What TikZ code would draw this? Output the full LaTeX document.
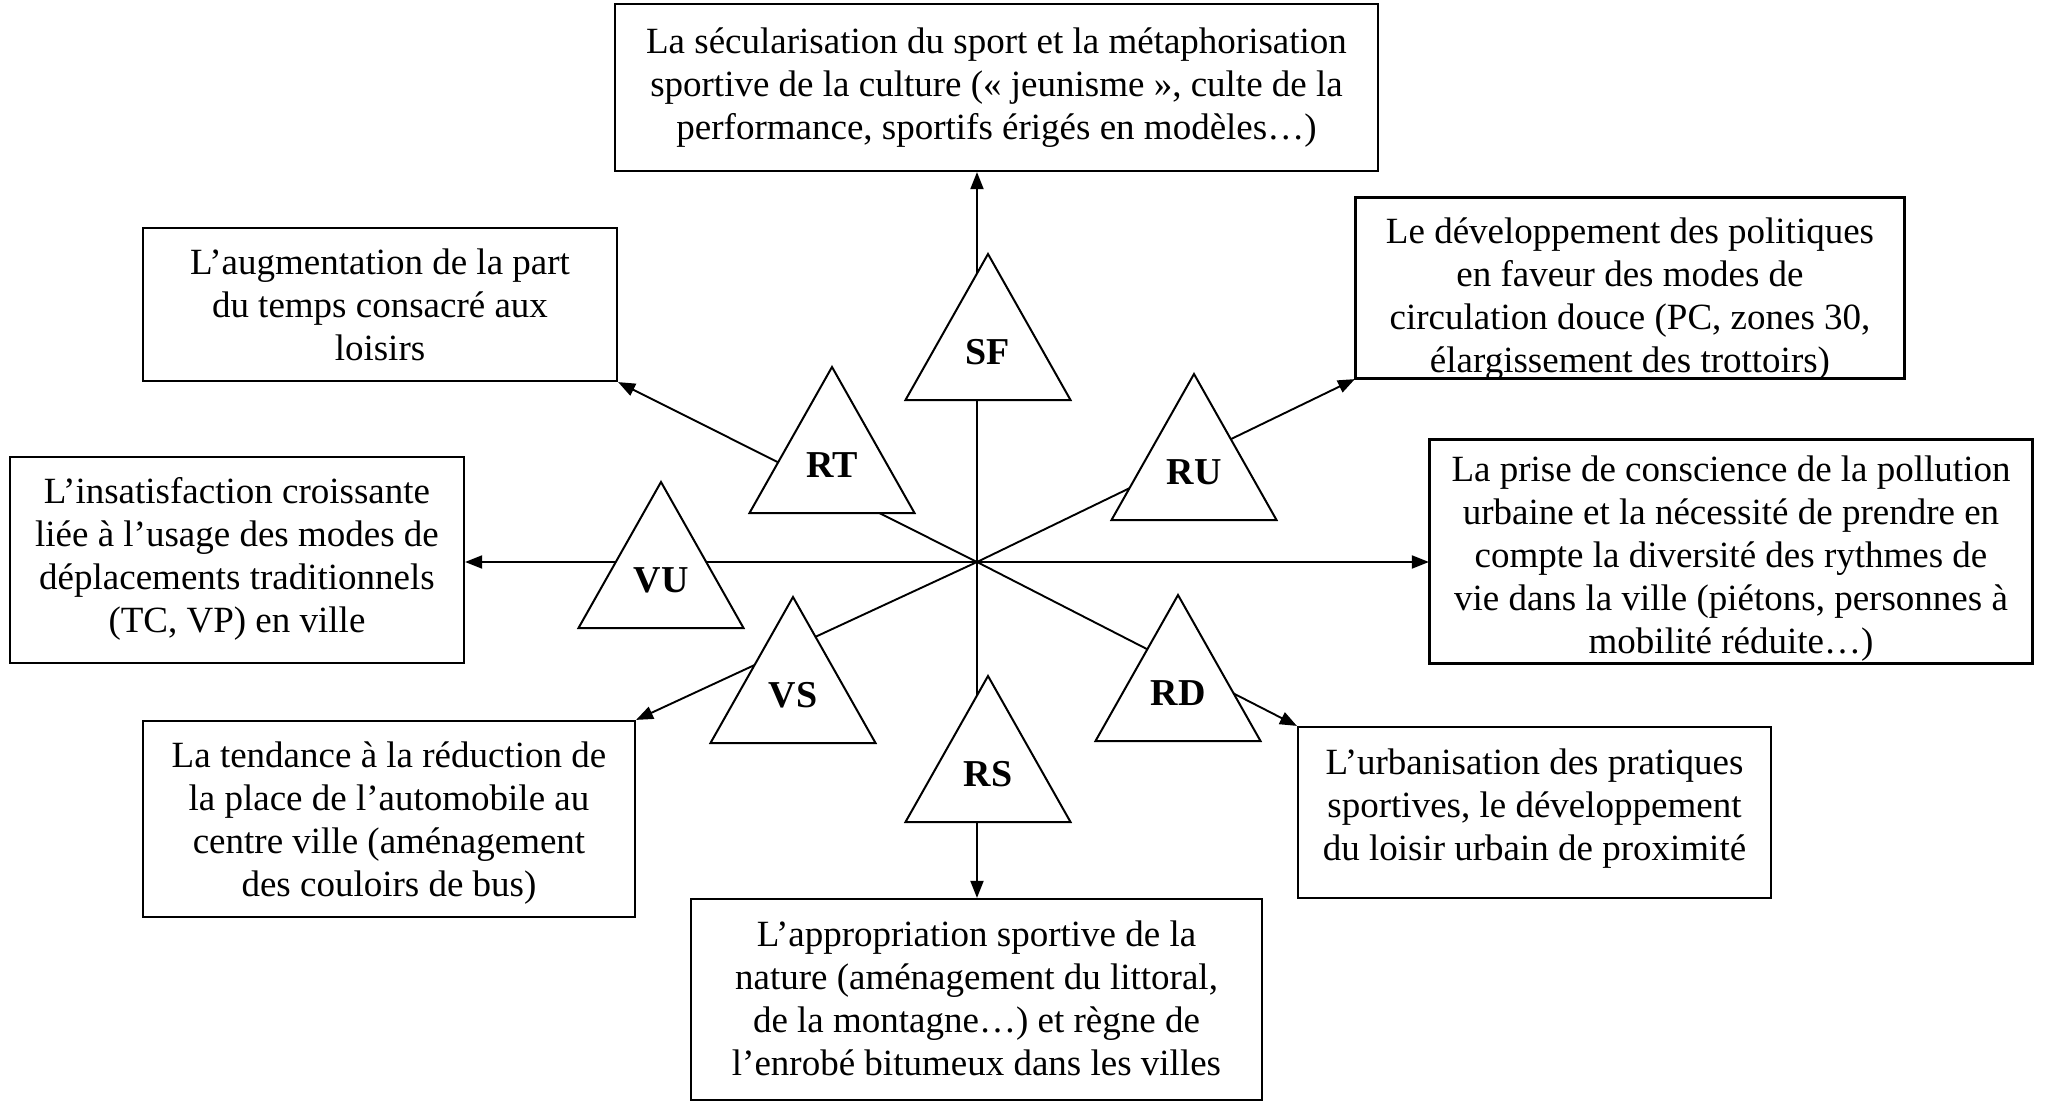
\documentclass[tikz,border=0pt]{standalone}
\usepackage{fontspec}
\setmainfont{Liberation Serif}
\usetikzlibrary{arrows.meta}

% one unit = 1pt, y axis pointing down
\tikzset{
  frame/.style={draw, line width=2.2pt, inner sep=0pt, fill=white},
  body/.style={inner sep=0pt, align=center, font=\fontsize{37}{43}\selectfont},
  link/.style={line width=1.9pt, -{Triangle[length=17pt,width=13pt]}},
  trishape/.style={draw, line width=2pt, fill=white, line join=miter},
  trilabel/.style={inner sep=0pt, font=\fontsize{38}{40}\selectfont\bfseries},
}

% triangle with its bold label: apex x, apex y, name
\newcommand\triangletag[3]{%
  \path[trishape] (#1-82.5,#2+146) -- (#1,#2) -- (#1+82.5,#2+146) -- cycle;
  \node[trilabel] (#3) at (#1,#2+98) {#3};}

\begin{document}
\begin{tikzpicture}[x=1pt,y=-1pt]
\useasboundingbox (0,0) rectangle (2046,1102);

\coordinate (hub) at (977,562);

% box frames
\node[frame, minimum width=763, minimum height=167] (top) at (996.5,87.5) {};
\node[frame, minimum width=474, minimum height=153] (tl)  at (380,304.5) {};
\node[frame, minimum width=548, minimum height=180] (tr)  at (1630,288) {};
\node[frame, minimum width=454, minimum height=206] (lf)  at (237,560) {};
\node[frame, minimum width=602, minimum height=223] (rt)  at (1731,551.5) {};
\node[frame, minimum width=492, minimum height=196] (bl)  at (389,819) {};
\node[frame, minimum width=473, minimum height=171] (br)  at (1534.5,812.5) {};
\node[frame, minimum width=571, minimum height=201] (bt)  at (976.5,999.5) {};

% box texts
\node[body] (ttop) at (996.5,88) {La sécularisation du sport et la métaphorisation\\
  sportive de la culture («~jeunisme~», culte de la\\
  performance, sportifs érigés en modèles…)};
\node[body] (ttl) at (380,305) {L’augmentation de la part\\
  du temps consacré aux\\ loisirs};
\begin{scope}
  \clip (tr.south west) rectangle (tr.north east);
  \node[body] (ttr) at (1630,299) {Le développement des politiques\\
    en faveur des modes de\\ circulation douce (PC, zones 30,\\
    élargissement des trottoirs)};
\end{scope}
\node[body] (tlf) at (237,558.5) {L’insatisfaction croissante\\
  liée à l’usage des modes de\\ déplacements traditionnels\\
  (TC, VP) en ville};
\begin{scope}
  \clip (rt.south west) rectangle (rt.north east);
  \node[body] (trt) at (1731,559) {La prise de conscience de la pollution\\
    urbaine et la nécessité de prendre en\\ compte la diversité des rythmes de\\
    vie dans la ville (piétons, personnes à\\ mobilité réduite…)};
\end{scope}
\node[body] (tbl) at (389,823.5) {La tendance à la réduction de\\
  la place de l’automobile au\\ centre ville (aménagement\\ des couloirs de bus)};
\node[body] (tbr) at (1534.5,808.5) {L’urbanisation des pratiques\\
  sportives, le développement\\ du loisir urbain de proximité};
\node[body] (tbt) at (976.5,998.5) {L’appropriation sportive de la\\
  nature (aménagement du littoral,\\ de la montagne…) et règne de\\
  l’enrobé bitumeux dans les villes};

% redraw frame borders over clipped texts
\draw[line width=2.2pt] (tr.south west) rectangle (tr.north east);
\draw[line width=2.2pt] (rt.south west) rectangle (rt.north east);

% connectors from the hub
\draw[link] (hub) -- (top.south -| hub);
\draw[link] (hub) -- (bt.north -| hub);
\draw[link] (hub) -- (lf.east |- hub);
\draw[link] (hub) -- (rt.west |- hub);
\draw[link] (hub) -- (tl.south east);
\draw[link] (hub) -- (tr.south west);
\draw[link] (hub) -- (bl.north east);
\draw[link] (hub) -- (br.north west);

% triangles over the connectors
\triangletag{988}{254}{SF}
\triangletag{832}{367}{RT}
\triangletag{1194}{374}{RU}
\triangletag{661}{482}{VU}
\triangletag{793}{597}{VS}
\triangletag{1178}{595}{RD}
\triangletag{988}{676}{RS}
\end{tikzpicture}
\end{document}
